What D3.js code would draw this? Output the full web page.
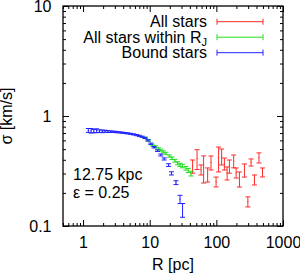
<!DOCTYPE html>
<html>
<head>
<meta charset="utf-8">
<script src="https://cdn.jsdelivr.net/npm/d3@7"></script>
<style>
  body { margin: 0; background: #fff; }
  svg { display: block; font-family: "Liberation Sans", Arial, sans-serif; }
  .domain { display: none; }
</style>
</head>
<body>
<div id="main"></div>
<script>
// Data: R [pc], sigma [km/s], error
const allR = [44, 51.3, 58.9, 64.4, 74, 83.2, 99, 108, 120, 132, 145, 157, 182, 198, 222, 264, 297, 332, 373, 436, 492];
const allSigma = [0.35, 0.41, 0.325, 0.34, 0.294, 0.378, 0.2525, 0.416, 0.43, 0.369, 0.303, 0.35, 0.39, 0.305, 0.268, 0.3225, 0.1665, 0.379, 0.2635, 0.418, 0.308];
const allErr = [0.048, 0.084, 0.034, 0.094, 0.043, 0.055, 0.026, 0.106, 0.071, 0.046, 0.041, 0.048, 0.052, 0.032, 0.042, 0.044, 0.0175, 0.028, 0.0275, 0.044, 0.029];

const rjR = [8.5, 9.6, 10.9, 12.3, 13.5, 14.7, 16.0, 17.5, 19.7, 21.6, 23.8, 26.2, 28.5, 31, 34.9, 38, 41.7];
const rjSigma = [0.635, 0.6, 0.545, 0.526, 0.505, 0.49, 0.472, 0.458, 0.433, 0.413, 0.392, 0.372, 0.36, 0.351, 0.335, 0.32, 0.3];
const rjErr = [0.01, 0.01, 0.01, 0.01, 0.01, 0.01, 0.01, 0.01, 0.01, 0.011, 0.011, 0.012, 0.012, 0.013, 0.013, 0.014, 0.015];

const boundR = [1.2, 1.32, 1.45, 1.6, 1.76, 1.94, 2.13, 2.35, 2.6, 2.85, 3.15, 3.5, 3.85, 4.25, 4.7, 5.2, 5.75, 6.35, 7.0, 7.7, 8.5, 9.4, 10.4, 11.6, 13.1, 14.7, 16.5, 19.2, 21.2, 24.8, 28.5, 31.1];
const boundSigma = [0.74, 0.735, 0.73, 0.735, 0.728, 0.725, 0.728, 0.722, 0.72, 0.718, 0.715, 0.71, 0.706, 0.7, 0.695, 0.688, 0.68, 0.67, 0.66, 0.648, 0.63, 0.6, 0.56, 0.52, 0.484, 0.442, 0.407, 0.358, 0.301, 0.248, 0.175, 0.14];
const boundErr = [0.03, 0.035, 0.025, 0.03, 0.02, 0.02, 0.015, 0.015, 0.012, 0.01, 0.01, 0.008, 0.008, 0.008, 0.008, 0.008, 0.008, 0.008, 0.008, 0.008, 0.008, 0.008, 0.008, 0.008, 0.008, 0.009, 0.009, 0.01, 0.01, 0.01, 0.015, 0.02];

const xTicks = [1, 10, 100, 1000];
const yTicks = [0.1, 1, 10];
const xLabel = "R [pc]";
const yLabel = "σ [km/s]";
const notes = ["12.75 kpc", "ε = 0.25"];

const series = [
  { name: "All stars", sub: "", color: "#ff2a2a", R: allR, s: allSigma, e: allErr },
  { name: "All stars within R", sub: "J", color: "#22dd22", R: rjR, s: rjSigma, e: rjErr },
  { name: "Bound stars", sub: "", color: "#2222ff", R: boundR, s: boundSigma, e: boundErr },
];

// Layout config
const width = 300;
const height = 275;
const plot = { left: 63, right: 283, top: 6, bottom: 226 };
const capW = 2.5;
const fontSize = 16;

const svg = d3.select("#main").append("svg").attr("width", width).attr("height", height);

const x = d3.scaleLog().domain([0.5, 1000]).range([plot.left, plot.right]);
const y = d3.scaleLog().domain([0.1, 10]).range([plot.bottom, plot.top]);

// minor ticks 2..9 per decade
const minor = (sc) => sc.ticks().filter((v) => {
  const m = v / Math.pow(10, Math.floor(Math.log10(v) + 1e-9));
  return Math.abs(m - 1) > 1e-6;
});

function drawAxis(axisFn, sc, pos, labels) {
  const g = svg.append("g").attr("transform", pos);
  g.call(axisFn(sc).tickValues(minor(sc)).tickSize(-3).tickFormat(""));
  const gm = svg.append("g").attr("transform", pos);
  gm.call(axisFn(sc).tickValues(sc === x ? xTicks : yTicks).tickSize(-6)
    .tickPadding(sc === x ? 10.5 : 11.5).tickFormat(labels ? (d) => d : ""));
  gm.selectAll("text").attr("font-size", fontSize).attr("fill", "#000")
    .attr("font-family", "Liberation Sans, Arial, sans-serif");
  svg.selectAll(".tick line").attr("stroke", "#000");
}

drawAxis(d3.axisBottom, x, `translate(0,${plot.bottom})`, true);
drawAxis(d3.axisTop, x, `translate(0,${plot.top})`, false);
drawAxis(d3.axisLeft, y, `translate(${plot.left},0)`, true);
drawAxis(d3.axisRight, y, `translate(${plot.right},0)`, false);

// Frame
svg.append("rect")
  .attr("x", plot.left).attr("y", plot.top)
  .attr("width", plot.right - plot.left).attr("height", plot.bottom - plot.top)
  .attr("fill", "none").attr("stroke", "#000").attr("stroke-width", 1.3);

// Error bars
series.forEach((sr) => {
  const pts = sr.R.map((r, i) => ({ r, s: sr.s[i], e: sr.e[i] }));
  const g = svg.append("g").attr("stroke", sr.color).attr("stroke-width", 1).attr("fill", "none");
  g.selectAll("path").data(pts).join("path")
    .attr("d", (d) => {
      const px = x(d.r);
      const y0 = y(d.s + d.e);
      const y1 = y(Math.max(d.s - d.e, 0.01));
      return `M${px},${y0}V${y1}M${px - capW},${y0}H${px + capW}M${px - capW},${y1}H${px + capW}` +
        `M${px - 0.5},${y(d.s)}H${px + 0.5}`;
    });
});

// Legend
series.forEach((sr, i) => {
  const ty = 27.4 + i * 15.5;
  const t = svg.append("text").attr("x", 207).attr("y", ty).attr("text-anchor", "end")
    .attr("font-size", fontSize).text(sr.name);
  if (sr.sub) t.append("tspan").attr("font-size", 11).attr("dy", 3).text(sr.sub);
  const ly = ty - 5.7;
  svg.append("path").attr("stroke", sr.color).attr("fill", "none")
    .attr("d", `M217,${ly}H263M217,${ly - 3}V${ly + 3}M263,${ly - 3}V${ly + 3}`);
});

// Labels
svg.append("text").attr("x", (plot.left + plot.right) / 2).attr("y", 270)
  .attr("text-anchor", "middle").attr("font-size", fontSize).text(xLabel);
svg.append("text").attr("transform", `translate(12,${(plot.top + plot.bottom) / 2}) rotate(-90)`)
  .attr("text-anchor", "middle").attr("font-size", fontSize).text(yLabel);

notes.forEach((n, i) => {
  svg.append("text").attr("x", 73).attr("y", 180 + i * 18).attr("font-size", fontSize).text(n);
});
</script>
</body>
</html>
